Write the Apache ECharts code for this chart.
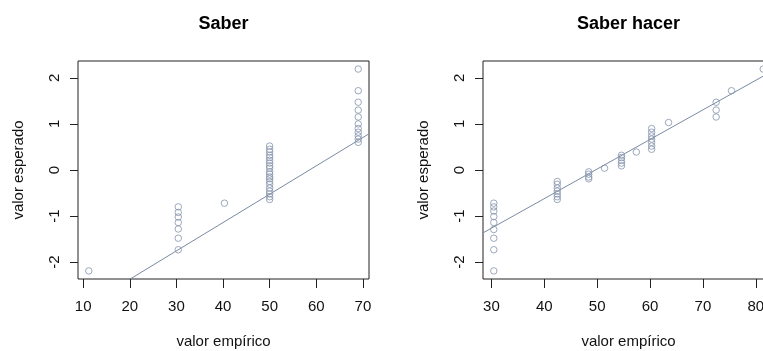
<!DOCTYPE html>
<html>
<head>
<meta charset="utf-8">
<script src="https://cdn.jsdelivr.net/npm/echarts@6/dist/echarts.min.js"></script>
<style>
html,body{margin:0;padding:0;background:#fff;}
#c{width:763px;height:351px;}
</style>
</head>
<body>
<div id="c"></div>
<script>
// ---- data ----
const titles = ['Saber', 'Saber hacer'];
const xAxisTitle = 'valor empírico';
const yAxisTitle = 'valor esperado';

const saberX = [11.2,
  30.4, 30.4, 30.4, 30.4, 30.4, 30.4, 30.4,
  40.3,
  50.0, 50.0, 50.0, 50.0, 50.0, 50.0, 50.0, 50.0, 50.0, 50.0,
  50.0, 50.0, 50.0, 50.0, 50.0, 50.0, 50.0, 50.0, 50.0, 50.0,
  69.0, 69.0, 69.0, 69.0, 69.0, 69.0, 69.0, 69.0, 69.0, 69.0, 69.0];
const saberY = [-2.19,
  -1.73, -1.48, -1.28, -1.14, -1.02, -0.92, -0.80,
  -0.72,
  -0.64, -0.58, -0.52, -0.46, -0.39, -0.31, -0.25, -0.19, -0.15, -0.09,
  -0.04, 0.04, 0.09, 0.15, 0.21, 0.27, 0.32, 0.39, 0.45, 0.52,
  0.60, 0.67, 0.74, 0.82, 0.90, 1.00, 1.15, 1.30, 1.47, 1.72, 2.19];

const hacerX = [30.45, 30.45, 30.45, 30.45, 30.45, 30.45, 30.45, 30.45, 30.45,
  42.45, 42.45, 42.45, 42.45, 42.45, 42.45, 42.45,
  48.4, 48.4, 48.4, 48.4,
  51.4,
  54.6, 54.6, 54.6, 54.6, 54.6,
  57.4,
  60.3, 60.3, 60.3, 60.3, 60.3, 60.3, 60.3,
  63.5,
  72.5, 72.5, 72.5,
  75.4,
  81.4];
const hacerY = [-2.19, -1.73, -1.48, -1.29, -1.14, -1.01, -0.89, -0.80, -0.72,
  -0.64, -0.58, -0.52, -0.46, -0.39, -0.31, -0.25,
  -0.19, -0.15, -0.09, -0.04,
  0.04,
  0.09, 0.15, 0.21, 0.27, 0.32,
  0.39,
  0.45, 0.52, 0.60, 0.67, 0.74, 0.82, 0.90,
  1.03,
  1.15, 1.30, 1.47,
  1.72,
  2.19];

// regression fits: [intercept, slope]
const saberFit = [-3.60, 0.0615];
const hacerFit = [-3.189, 0.0642];

const yTicks = [-2, -1, 0, 1, 2];
const saberXTicks = [10, 20, 30, 40, 50, 60, 70];
const hacerXTicks = [30, 40, 50, 60, 70, 80];

const saberXRange = [8.89, 71.31];
const hacerXRange = [28.41, 83.44];
const yRange = [-2.365, 2.365];

// ---- chart ----
const pointColor = '#8494ac';
const lineColor = '#7a8aa2';
const font = 'Liberation Sans, Arial, Helvetica, sans-serif';

function pairs(xs, ys) { return xs.map((x, i) => [x, ys[i]]); }
function fitLine(fit, range) {
  return range.map(x => [x, fit[0] + fit[1] * x]);
}

function xAxisCfg(gridIndex, range, ticks) {
  return {
    type: 'value', gridIndex: gridIndex, min: range[0], max: range[1],
    position: 'bottom',
    name: xAxisTitle, nameLocation: 'middle', nameGap: 55,
    nameTextStyle: { fontFamily: font, fontSize: 15, color: '#111' },
    axisLine: { show: false, onZero: false },
    splitLine: { show: false },
    axisTick: { show: true, inside: false, length: 9, customValues: ticks,
      lineStyle: { color: '#222', width: 1 } },
    axisLabel: { show: true, customValues: ticks, margin: 20,
      fontFamily: font, fontSize: 15, color: '#111' }
  };
}
function yAxisCfg(gridIndex) {
  return {
    type: 'value', gridIndex: gridIndex, min: yRange[0], max: yRange[1],
    position: 'left',
    name: yAxisTitle, nameLocation: 'middle', nameGap: 52, nameRotate: 90,
    nameTextStyle: { fontFamily: font, fontSize: 15, color: '#111' },
    axisLine: { show: false, onZero: false },
    splitLine: { show: false },
    axisTick: { show: true, inside: false, length: 8, customValues: yTicks,
      lineStyle: { color: '#222', width: 1 } },
    axisLabel: { show: true, customValues: yTicks, rotate: 90, margin: 16,
      fontFamily: font, fontSize: 15, color: '#111' }
  };
}
function scatterCfg(idx, xs, ys) {
  return {
    type: 'scatter', xAxisIndex: idx, yAxisIndex: idx,
    data: pairs(xs, ys), symbol: 'circle', symbolSize: 6.5,
    itemStyle: { color: 'rgba(0,0,0,0)', borderColor: pointColor, borderWidth: 1 },
    silent: true, z: 3
  };
}
function lineCfg(idx, fit, range) {
  return {
    type: 'line', xAxisIndex: idx, yAxisIndex: idx,
    data: fitLine(fit, range), showSymbol: false, symbol: 'none', clip: true,
    lineStyle: { color: lineColor, width: 1 }, silent: true, z: 2
  };
}

const chart = echarts.init(document.getElementById('c'), null, { renderer: 'canvas' });
chart.setOption({
  animation: false,
  backgroundColor: '#fff',
  title: [
    { text: titles[0], left: 223.5, top: 15, padding: 0, textAlign: 'center',
      textStyle: { fontFamily: font, fontSize: 18, fontWeight: 'bold', color: '#000' } },
    { text: titles[1], left: 628.5, top: 15, padding: 0, textAlign: 'center',
      textStyle: { fontFamily: font, fontSize: 18, fontWeight: 'bold', color: '#000' } }
  ],
  grid: [
    { left: 78, top: 61, width: 291, height: 218, show: true,
      borderColor: '#222', borderWidth: 1, backgroundColor: 'rgba(0,0,0,0)',
      containLabel: false, outerBoundsMode: 'none' },
    { left: 483, top: 61, width: 291, height: 218, show: true,
      borderColor: '#222', borderWidth: 1, backgroundColor: 'rgba(0,0,0,0)',
      containLabel: false, outerBoundsMode: 'none' }
  ],
  xAxis: [
    xAxisCfg(0, saberXRange, saberXTicks),
    xAxisCfg(1, hacerXRange, hacerXTicks)
  ],
  yAxis: [yAxisCfg(0), yAxisCfg(1)],
  series: [
    lineCfg(0, saberFit, saberXRange),
    scatterCfg(0, saberX, saberY),
    lineCfg(1, hacerFit, hacerXRange),
    scatterCfg(1, hacerX, hacerY)
  ]
});
</script>
</body>
</html>
